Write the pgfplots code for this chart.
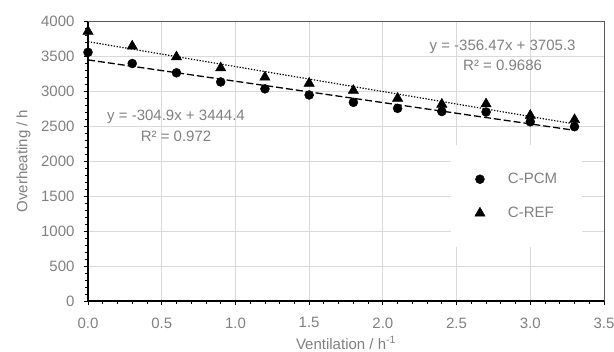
\documentclass[border=0pt]{standalone}
\usepackage{fontspec}
\setmainfont{Liberation Sans}
\usepackage{pgfplots}
\pgfplotsset{compat=1.18}
\definecolor{txtgray}{HTML}{808080}
\definecolor{gridgray}{HTML}{D9D9D9}
\definecolor{boxgray}{HTML}{595959}
\newcommand{\ff}{\fontsize{15}{18}\selectfont}
\begin{document}
\begin{tikzpicture}
\begin{axis}[
  scale only axis, width=516pt, height=280pt,
  xmin=0, xmax=3.5, ymin=0, ymax=4000,
  xtick={0,0.5,...,3.5}, ytick={0,500,...,4000},
  minor x tick num=4, minor y tick num=4,
  axis x line*=bottom, axis y line*=left,
  axis line style={black, line width=1.6pt, -},
  tick align=outside, major tick length=4pt, minor tick length=3pt,
  every tick/.style={black, line width=0.8pt},
  grid=major, major grid style={gridgray, line width=0.8pt},
  font=\ff,
  /pgf/number format/assume math mode=true,
  ticklabel style={txtgray, font=\ff},
  x tick label style={yshift=-9pt, /pgf/number format/.cd, fixed, fixed zerofill, precision=1},
  y tick label style={xshift=-6pt, /pgf/number format/1000 sep={}},
  scaled y ticks=false,
  every axis y label/.style={at={(axis description cs:-0.125,0.5)}, rotate=90, anchor=center, txtgray, font=\ff},
  every axis x label/.style={at={(axis description cs:0.5,-0.15)}, anchor=center, txtgray, font=\ff},
  ylabel={Overheating / h},
  xlabel={Ventilation / h\textsuperscript{-1}},
  clip=false,
  legend style={at={(0.703,0.557)}, anchor=north west, draw=none, fill=white,
    font=\ff, text=txtgray, row sep=18pt, inner xsep=0pt, inner ysep=26pt,
    cells={anchor=west}},
  legend image code/.code={\draw[#1] plot coordinates {(0pt,0pt)}; \path[draw=none,fill=none] (-29pt,-5pt) rectangle (26pt,5pt);},
]
\addplot[only marks, mark=*, mark size=4.5pt, black] coordinates {
 (0,3553) (0.3,3393) (0.6,3260) (0.9,3129) (1.2,3031) (1.5,2943)
 (1.8,2838) (2.1,2752) (2.4,2707) (2.7,2700) (3.0,2560) (3.3,2490)};
\addlegendentry{\makebox[72pt][l]{C-PCM}}
\addplot[only marks, mark=triangle*, mark size=6pt, black] coordinates {
 (0,3850) (0.3,3640) (0.6,3486) (0.9,3329) (1.2,3197) (1.5,3110)
 (1.8,3007) (2.1,2895) (2.4,2810) (2.7,2815) (3.0,2650) (3.3,2590)};
\addlegendentry{\makebox[72pt][l]{C-REF}}
\addplot[black, line width=1.3pt, dash pattern=on 7pt off 3pt, forget plot] coordinates {(0,3444.4) (3.3,2438.2)};
\addplot[black, line width=1.2pt, dash pattern=on 1.3pt off 1.6pt, forget plot] coordinates {(0,3705.3) (3.3,2528.9)};
\draw[boxgray, line width=0.8pt] (rel axis cs:0,1) -- (rel axis cs:1,1) -- (rel axis cs:1,0);
\node[txtgray, font=\ff, anchor=center] at (axis cs:0.597,2629) {y = -304.9x + 3444.4};
\node[txtgray, font=\ff, anchor=center] at (axis cs:0.597,2357) {R² = 0.972};
\node[txtgray, font=\ff, anchor=center] at (axis cs:2.812,3633) {y = -356.47x + 3705.3};
\node[txtgray, font=\ff, anchor=center] at (axis cs:2.812,3361) {R² = 0.9686};
\end{axis}
\pgfresetboundingbox
\path[use as bounding box] ([shift={(-88pt,-50pt)}]current axis.south west) rectangle ([shift={(10pt,21pt)}]current axis.north east);
\end{tikzpicture}
\end{document}
